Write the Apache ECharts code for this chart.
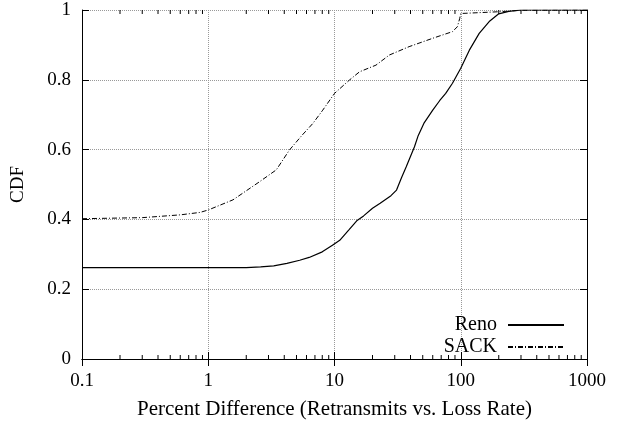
<!DOCTYPE html>
<html>
<head>
<meta charset="utf-8">
<script src="https://cdn.jsdelivr.net/npm/echarts@6/dist/echarts.min.js"></script>
<style>
  html, body { margin: 0; padding: 0; background: #fff; }
  #chart { width: 623px; height: 425px; }
</style>
</head>
<body>
<div id="chart"></div>
<script>
// values: [percent difference, CDF]
const renoData = [
  [0.1, 0.262], [2, 0.262], [2.6, 0.264], [3.3, 0.267], [4.2, 0.274],
  [5.3, 0.283], [6.3, 0.291], [8, 0.307], [9.7, 0.327], [11, 0.34],
  [13, 0.37], [15, 0.396], [17, 0.41], [20, 0.432], [23, 0.446],
  [28, 0.468], [31, 0.484], [34, 0.52], [37, 0.551], [43, 0.608],
  [46, 0.64], [51, 0.675], [60, 0.713], [68, 0.74], [76, 0.761],
  [86, 0.79], [100, 0.833], [117, 0.885], [140, 0.933], [168, 0.967],
  [200, 0.989], [240, 0.996], [300, 1], [1000, 1],
];
const sackData = [
  [0.1, 0.402], [0.3, 0.405], [0.6, 0.413], [0.86, 0.42], [1, 0.427],
  [1.57, 0.456], [2.55, 0.508], [3.46, 0.542], [4.4, 0.599], [5.5, 0.64],
  [6.74, 0.675], [8.07, 0.713], [10, 0.761], [13.1, 0.799], [15.8, 0.823],
  [21.3, 0.842], [27.2, 0.871], [39, 0.895], [60, 0.919], [86, 0.938],
  [94, 0.952], [98, 0.975], [100, 0.99], [132, 0.992], [200, 0.995],
  [300, 0.999], [1000, 1],
];
const seriesNames = ["Reno", "SACK"];
const xName = "Percent Difference (Retransmits vs. Loss Rate)";
const yName = "CDF";

// minor tick positions on the log axis (2..9 in each decade)
const minorTicks = [];
for (const d of [0.1, 1, 10, 100]) {
  for (let k = 2; k <= 9; k++) minorTicks.push([d * k]);
}

const font = "Liberation Serif";
const chart = echarts.init(document.getElementById("chart"));

const xAxisBase = {
  type: "log",
  logBase: 10,
  min: 0.1,
  max: 1000,
  axisLine: { lineStyle: { color: "#000", width: 1 } },
  axisTick: { inside: true, length: 7, lineStyle: { color: "#000" } },
};
const yAxisBase = {
  type: "value",
  min: 0,
  max: 1,
  interval: 0.2,
  axisLine: { show: true, lineStyle: { color: "#000", width: 1 } },
  axisTick: { show: true, inside: true, length: 7, lineStyle: { color: "#000" } },
};

chart.setOption({
  animation: false,
  grid: { left: 82, right: 36, top: 10, bottom: 66 },
  textStyle: { fontFamily: font },
  xAxis: [
    {
      ...xAxisBase,
      position: "bottom",
      name: xName,
      nameLocation: "middle",
      nameGap: 40,
      nameTextStyle: { fontFamily: font, fontSize: 21, color: "#000" },
      axisLabel: {
        fontFamily: font, fontSize: 19, color: "#000", margin: 13,
        formatter: (v) => String(v),
      },
      splitLine: {
        show: true,
        lineStyle: { type: "dotted", color: "#999", width: 1 },
      },
    },
    {
      ...xAxisBase,
      position: "top",
      axisLabel: { show: false },
      splitLine: { show: false },
    },
  ],
  yAxis: [
    {
      ...yAxisBase,
      position: "left",
      name: yName,
      nameLocation: "middle",
      nameGap: 54,
      nameTextStyle: { fontFamily: font, fontSize: 19, color: "#000" },
      axisLabel: {
        fontFamily: font, fontSize: 19, color: "#000", margin: 11,
        formatter: (v) => (v === 0 || v === 1 ? String(v) : v.toFixed(1)),
      },
      splitLine: {
        show: true,
        lineStyle: { type: "dotted", color: "#999", width: 1 },
      },
    },
    {
      ...yAxisBase,
      position: "right",
      axisLabel: { show: false },
      splitLine: { show: false },
    },
  ],
  legend: {
    data: seriesNames,
    orient: "vertical",
    right: 53,
    top: 310,
    align: "right",
    itemWidth: 56,
    itemHeight: 10,
    itemGap: 2,
    itemStyle: { opacity: 0 },
    textStyle: {
      fontFamily: font, fontSize: 20, color: "#000",
      lineHeight: 20, padding: [0, 6, 0, 0],
    },
  },
  series: [
    {
      name: seriesNames[0],
      type: "line",
      data: renoData,
      symbol: "none",
      lineStyle: { color: "#000", width: 1.2, type: "solid" },
      itemStyle: { color: "#000" },
    },
    {
      name: seriesNames[1],
      type: "line",
      data: sackData,
      symbol: "none",
      lineStyle: { color: "#000", width: 1, type: [5, 2, 1, 2] },
      itemStyle: { color: "#000" },
    },
    {
      type: "custom",
      silent: true,
      clip: false,
      data: minorTicks,
      renderItem: (params, api) => {
        const x = api.value(0);
        const b = api.coord([x, 0]);
        const t = api.coord([x, 1]);
        const style = { stroke: "#000", lineWidth: 1 };
        return {
          type: "group",
          children: [
            { type: "line", shape: { x1: b[0], y1: b[1], x2: b[0], y2: b[1] - 4 }, style },
            { type: "line", shape: { x1: t[0], y1: t[1], x2: t[0], y2: t[1] + 4 }, style },
          ],
        };
      },
    },
  ],
});
</script>
</body>
</html>
